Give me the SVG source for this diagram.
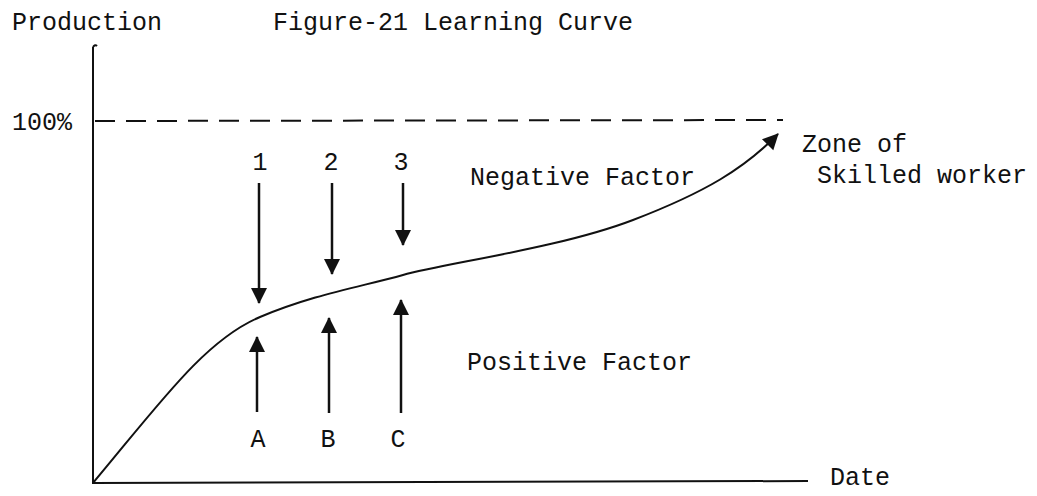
<svg xmlns="http://www.w3.org/2000/svg" width="1037" height="496" viewBox="0 0 1037 496">
<style>
text{font-family:"Liberation Mono","Courier New",monospace;font-size:25px;fill:#111}
.ln{stroke:#111;fill:none;stroke-width:2.5}
.ax{stroke:#111;fill:none;stroke-width:2}
</style>
<defs>
<marker id="ah" viewBox="0 0 16 16" refX="15" refY="8" markerWidth="16" markerHeight="17" markerUnits="userSpaceOnUse" orient="auto">
<path d="M0,0 L16,8 L0,16 Z" fill="#111"/>
</marker>
</defs>
<rect width="1037" height="496" fill="#fff"/>
<g id="axes">
<path class="ax" d="M93,47 L93,483 L808,481"/>
<path class="ax" d="M93,47 Q95,44 97,46"/>
<path class="ax" d="M95,121 L783,120" stroke-dasharray="20 11"/>
</g>
<g id="labels">
<text x="12" y="30">Production</text>
<text x="273" y="30">Figure-21 Learning Curve</text>
<text x="12" y="130">100%</text>
<text x="830" y="485">Date</text>
<text x="802" y="152">Zone of</text>
<text x="817" y="183">Skilled worker</text>
<text x="470" y="185">Negative Factor</text>
<text x="467" y="370">Positive Factor</text>
</g>
<g id="numbers">
<text x="260" y="170" text-anchor="middle">1</text>
<text x="331" y="170" text-anchor="middle">2</text>
<text x="401" y="170" text-anchor="middle">3</text>
<text x="258" y="447" text-anchor="middle">A</text>
<text x="328" y="447" text-anchor="middle">B</text>
<text x="398" y="447" text-anchor="middle">C</text>
</g>
<g id="curve">
<path class="ax" d="M93,483 C160,403 205,340 260,317 S360,287 403,275 S560,248 633,220 S745,168 778,134" marker-end="url(#ah)"/>
</g>
<g id="connectors">
<path class="ln" d="M259,183 L259,303" marker-end="url(#ah)"/>
<path class="ln" d="M332,183 L332,274" marker-end="url(#ah)"/>
<path class="ln" d="M403,183 L403,245" marker-end="url(#ah)"/>
<path class="ln" d="M257,412 L257,337" marker-end="url(#ah)"/>
<path class="ln" d="M329,413 L329,318" marker-end="url(#ah)"/>
<path class="ln" d="M401,413 L401,300" marker-end="url(#ah)"/>
</g>
</svg>
